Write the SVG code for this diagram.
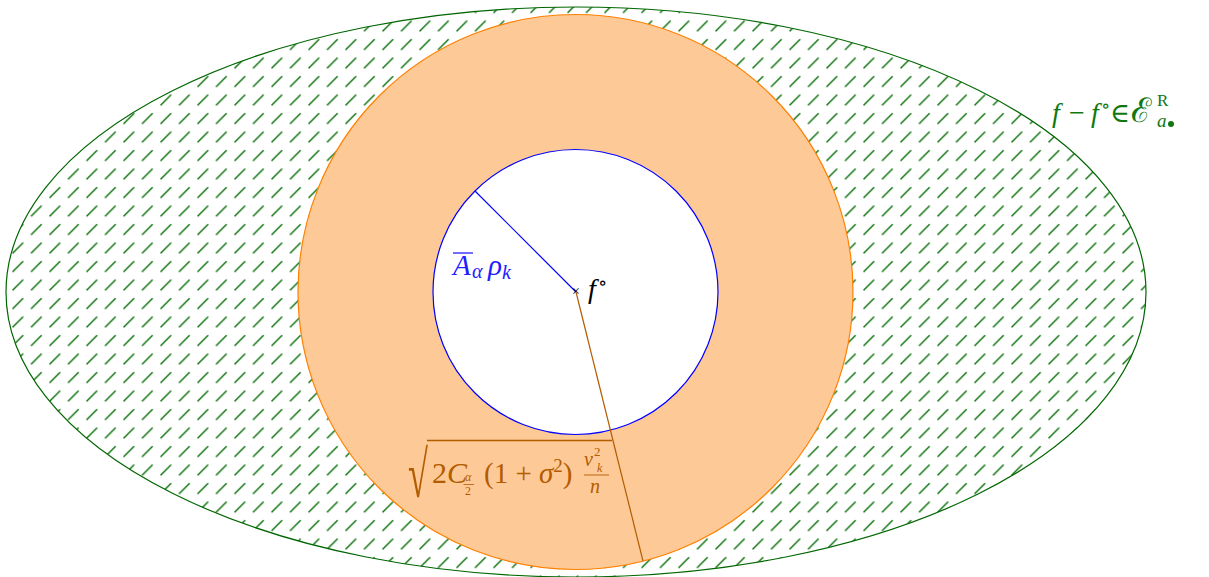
<svg xmlns="http://www.w3.org/2000/svg" width="1209" height="577" viewBox="0 0 1209 577">
<style>
.t{font-family:"Liberation Serif","DejaVu Serif",serif;}
.i{font-style:italic;}
.g{fill:#0f780f;}
.b{fill:#2020ff;}
.o{fill:#b35c00;}
</style>
<defs>
<pattern id="hatch" patternUnits="userSpaceOnUse" x="11" y="0" width="18.5" height="18.5">
<line x1="1.5" y1="13" x2="12.2" y2="2.3" stroke="#0b700b" stroke-width="1.4"/>
</pattern>
</defs>
<rect width="1209" height="577" fill="#fff"/>
<g id="ellipse">
<ellipse cx="576" cy="292" rx="570" ry="285" fill="url(#hatch)" stroke="#006600" stroke-width="1.2"/>
</g>
<g id="annulus">
<circle cx="575.5" cy="292" r="277.5" fill="#fdc996" stroke="#ff8000" stroke-width="1.2"/>
</g>
<g id="inner">
<circle cx="575.5" cy="292" r="142.5" fill="#fff" stroke="#0000ff" stroke-width="1.2"/>
</g>
<g id="connectors">
<line x1="576" y1="292" x2="475" y2="191" stroke="#0000ff" stroke-width="1.2"/>
<line x1="576" y1="292" x2="643" y2="561" stroke="#b35c00" stroke-width="1.2"/>
</g>
<g id="center">
<text class="t" x="576" y="296" font-size="14" text-anchor="middle" fill="#000">×</text>
<text class="t i" x="588" y="298" font-size="28" fill="#000">f</text>
<text class="t" x="598" y="289" font-size="19" fill="#000">∘</text>
</g>
<g id="label-A">
<line x1="453" y1="253" x2="473" y2="253" stroke="#2020ff" stroke-width="1.3"/>
<text class="t i b" x="453" y="275" font-size="29">A</text>
<text class="t i b" x="472" y="278" font-size="20">α</text>
<text class="t i b" x="488" y="275" font-size="29">ρ</text>
<text class="t i b" x="502" y="279" font-size="20">k</text>
</g>
<g id="label-sqrt">
<text class="t o" x="0" y="0" font-size="66" font-family="DejaVu Serif" transform="translate(408,497) scale(0.55,1)">√</text>
<line x1="427" y1="440.5" x2="612" y2="440.5" stroke="#b35c00" stroke-width="1.3"/>
<text class="t o" x="432" y="483" font-size="30">2<tspan class="i">C</tspan></text>
<text class="t o i" x="465" y="481" font-size="12">α</text>
<line x1="463.5" y1="484.5" x2="474" y2="484.5" stroke="#b35c00" stroke-width="0.8"/>
<text class="t o" x="465" y="495" font-size="12">2</text>
<text class="t o" x="484" y="483" font-size="29">(1 + <tspan class="i">σ</tspan><tspan font-size="19" dy="-11">2</tspan><tspan dy="11">)</tspan></text>
<text class="t o i" x="584" y="466" font-size="20">ν<tspan font-style="normal" font-size="13" dx="1" dy="-10">2</tspan></text>
<text class="t o i" x="597" y="471.5" font-size="12">k</text>
<line x1="584" y1="475" x2="609" y2="475" stroke="#b35c00" stroke-width="0.9"/>
<text class="t o i" x="590" y="493" font-size="20">n</text>
</g>
<g id="label-E">
<text class="t g i" x="1052" y="122" font-size="28">f</text>
<text class="t g" x="1069" y="122" font-size="28">−</text>
<text class="t g i" x="1091" y="122" font-size="28">f</text>
<text class="t g" x="1101" y="112" font-size="19">∘</text>
<text class="t g" x="1110" y="122" font-size="27">∈</text>
<text class="t g" x="1131" y="122" font-size="34" font-family="DejaVu Serif">ℰ</text>
<text class="t g" x="1157" y="106" font-size="17">R</text>
<text class="t g i" x="1157" y="127" font-size="19">a</text>
<circle cx="1171" cy="124" r="3" fill="#0f780f"/>
</g>
</svg>
